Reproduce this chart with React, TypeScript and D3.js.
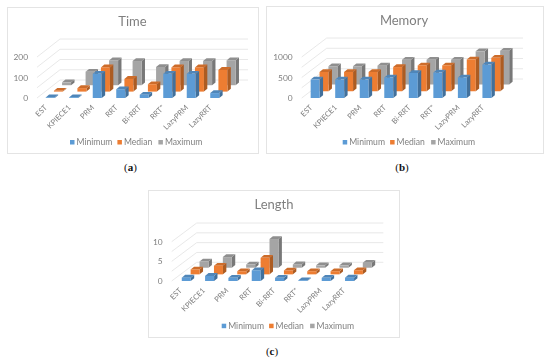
import React from 'react';
import * as d3 from 'd3';

const categories = ['EST', 'KPIECE1', 'PRM', 'RRT', 'Bi-RRT', 'RRT*', 'LazyPRM', 'LazyRRT'];
const seriesNames = ['Minimum', 'Median', 'Maximum'];

const timeMinimum = [3, 4, 118, 43, 16, 118, 118, 24];
const timeMedian = [4, 17, 118, 62, 36, 118, 118, 106];
const timeMaximum = [14, 66, 121, 118, 89, 118, 118, 121];
const timeTicks = [0, 100, 200];

const memoryMinimum = [450, 450, 450, 500, 610, 620, 500, 815];
const memoryMedian = [470, 470, 470, 590, 630, 630, 775, 815];
const memoryMaximum = [445, 445, 460, 605, 605, 605, 810, 825];
const memoryTicks = [0, 500, 1000];

const lengthMinimum = [0.85, 1.3, 0.8, 2.7, 0.8, 0.2, 0.8, 0.85];
const lengthMedian = [1.25, 2.2, 0.8, 4.2, 1, 0.8, 0.8, 1.05];
const lengthMaximum = [1.6, 2.7, 0.8, 7.3, 0.85, 0.6, 0.6, 1.25];
const lengthTicks = [0, 5, 10];

const colors = d3.scaleOrdinal<string, string>().domain(seriesNames).range(['#5b9bd5', '#ed7d31', '#a5a5a5']);
const font = 'Lato, "Open Sans", sans-serif';
const textColor = '#7f7f7f';
const gridColor = '#e2e2e2';

const barWidth = 9;
const barDepthX = 3.4;
const barDepthY = 2.8;

type PanelProps = {
  box: [number, number, number, number];
  title: string;
  titleX: number;
  titleY: number;
  values: number[][];
  ticks: number[];
  gridStep: number;
  frontLeft: number;
  frontRight: number;
  barShift: number;
  zeroY: number;
  topY: number;
  depthX: number;
  depthY: number;
  legendX: number;
  legendY: number;
  caption: string;
  captionX: number;
  captionY: number;
};

const Panel = (p: PanelProps) => {
  const [bx, by, bw, bh] = p.box;
  const x = d3.scaleBand().domain(categories).range([p.frontLeft, p.frontRight]);
  const y = d3.scaleLinear().domain([0, p.ticks[p.ticks.length - 1]]).range([p.zeroY, p.topY]);
  // position of each series along the floor depth, 0 = front, 1 = back wall
  const depth = d3.scalePoint().domain(seriesNames).range([0, 0.71]);
  const gridValues = d3.range(0, p.ticks[p.ticks.length - 1] + p.gridStep / 2, p.gridStep);

  const bars = seriesNames.slice().reverse().map(name => {
    const s = seriesNames.indexOf(name);
    const dx = depth(name)! * p.depthX + p.barShift;
    const dy = depth(name)! * p.depthY;
    return (
      <g key={name}>
        {categories.map((cat, i) => {
          const x0 = x(cat)! + (x.bandwidth() - barWidth) / 2 + dx;
          const x1 = x0 + barWidth;
          const yb = p.zeroY - dy;
          const yt = y(p.values[s][i]) - dy;
          const side = d3.path();
          side.moveTo(x1, yt);
          side.lineTo(x1 + barDepthX, yt - barDepthY);
          side.lineTo(x1 + barDepthX, yb - barDepthY);
          side.lineTo(x1, yb);
          side.closePath();
          const top = d3.path();
          top.moveTo(x0, yt);
          top.lineTo(x0 + barDepthX, yt - barDepthY);
          top.lineTo(x1 + barDepthX, yt - barDepthY);
          top.lineTo(x1, yt);
          top.closePath();
          const c = d3.color(colors(name))!;
          return (
            <g key={cat}>
              <path d={side.toString()} fill={c.darker(0.9).toString()} />
              <path d={top.toString()} fill={c.darker(0.4).toString()} />
              <rect x={x0} y={yt} width={barWidth} height={yb - yt} fill={colors(name)} />
            </g>
          );
        })}
      </g>
    );
  });

  return (
    <g fontFamily={font}>
      <rect x={bx + 0.5} y={by + 0.5} width={bw} height={bh} fill="#fff" stroke="#e4e4e4" filter="url(#soft)" />
      <g filter="url(#soft)">
        <text x={p.titleX} y={p.titleY} textAnchor="middle" fontSize={13} fill="#7f7f7f">{p.title}</text>
        {gridValues.map(v => (
          <g key={v} stroke={gridColor} strokeWidth={0.8}>
            <line x1={p.frontLeft} y1={y(v)} x2={p.frontLeft + p.depthX} y2={y(v) - p.depthY} />
            <line x1={p.frontLeft + p.depthX} y1={y(v) - p.depthY} x2={p.frontRight + p.depthX} y2={y(v) - p.depthY} />
          </g>
        ))}
        {bars}
        {p.ticks.map(t => (
          <text key={t} x={p.frontLeft - 9} y={y(t) + 3} textAnchor="end" fontSize={8.4} fill={textColor}>{t}</text>
        ))}
        {categories.map(cat => {
          const cx = x(cat)! + x.bandwidth() / 2 - 1;
          const cy = p.zeroY + 10;
          return (
            <text key={cat} transform={`translate(${cx},${cy}) rotate(-45)`} textAnchor="end" fontSize={7.6} fill={textColor}>{cat}</text>
          );
        })}
        {seriesNames.map((name, i) => {
          const lx = p.legendX + [0, 47.4, 88.4][i];
          return (
            <g key={name}>
              <rect x={lx} y={p.legendY - 2} width={4.5} height={4.5} fill={colors(name)} />
              <text x={lx + 6.5} y={p.legendY + 2.9} fontSize={8.6} fill={textColor}>{name}</text>
            </g>
          );
        })}
      </g>
      <text x={p.captionX} y={p.captionY} textAnchor="middle" fontFamily='"Liberation Serif", serif' fontSize={11} fill="#111">
        (<tspan fontWeight="bold">{p.caption}</tspan>)
      </text>
    </g>
  );
};

export default function App() {
  return (
    <svg width={550} height={360} style={{ position: 'absolute', left: 0, top: 0, background: '#fff' }}>
      <defs>
        <filter id="soft" x="-5%" y="-5%" width="110%" height="110%">
          <feGaussianBlur stdDeviation={0.35} />
        </filter>
      </defs>
      <Panel box={[7, 7, 251, 146]} title="Time" titleX={132.5} titleY={26}
        values={[timeMinimum, timeMedian, timeMaximum]} ticks={timeTicks} gridStep={50}
        frontLeft={37} frontRight={225} barShift={1.5} zeroY={98} topY={57} depthX={23} depthY={18}
        legendX={70} legendY={142} caption="a" captionX={130.5} captionY={171} />
      <Panel box={[266, 6, 277, 147]} title="Memory" titleX={404} titleY={25}
        values={[memoryMinimum, memoryMedian, memoryMaximum]} ticks={memoryTicks} gridStep={250}
        frontLeft={301.7} frontRight={498} barShift={1.2} zeroY={98} topY={57} depthX={25} depthY={19}
        legendX={342.7} legendY={142} caption="b" captionX={402} captionY={171} />
      <Panel box={[148, 190, 251, 147]} title="Length" titleX={274} titleY={209}
        values={[lengthMinimum, lengthMedian, lengthMaximum]} ticks={lengthTicks} gridStep={2.5}
        frontLeft={171.7} frontRight={358.3} barShift={2.9} zeroY={281} topY={241.7} depthX={25} depthY={18.7}
        legendX={221.7} legendY={325.7} caption="c" captionX={272} captionY={355} />
    </svg>
  );
}
